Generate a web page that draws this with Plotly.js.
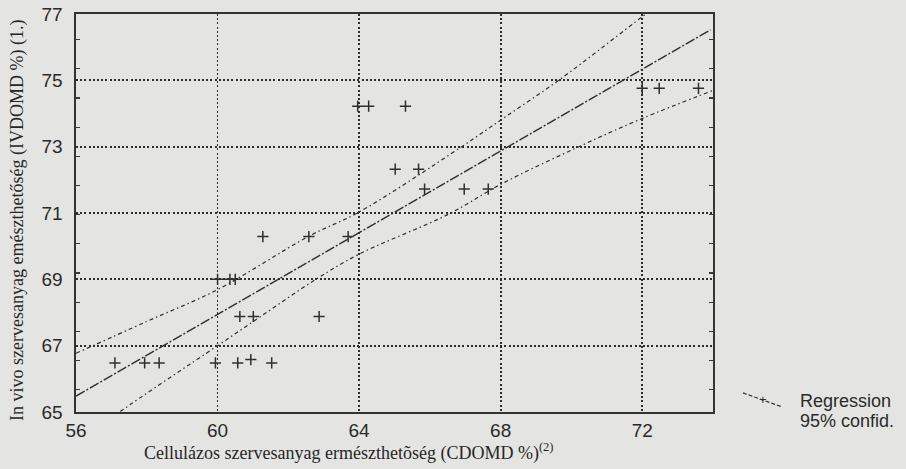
<!DOCTYPE html>
<html>
<head>
<meta charset="utf-8">
<script src="https://cdn.plot.ly/plotly-3.0.1.min.js"></script>
<style>
  html, body { margin: 0; padding: 0; background: #e4e5e2; }
  #chart { width: 906px; height: 469px; }
</style>
</head>
<body>
<div id="chart"></div>
<script>
// Cellulase (CDOMD %) vs in vivo (IVDOMD %) organic matter digestibility
const cdomd = [57.1, 57.94, 58.35, 59.94, 60.57, 60.94, 61.53,
               60.63, 61.01, 62.87,
               60.0, 60.35, 60.5,
               61.28, 62.58, 63.69,
               65.85, 66.97, 67.65,
               65.02, 65.68,
               63.96, 64.27, 65.31,
               72.0, 72.48, 73.59];
const ivdomd = [66.48, 66.48, 66.48, 66.48, 66.48, 66.58, 66.48,
                67.88, 67.88, 67.88,
                69.0, 69.0, 69.0,
                70.29, 70.29, 70.29,
                71.72, 71.72, 71.72,
                72.32, 72.32,
                74.22, 74.22, 74.22,
                74.76, 74.76, 74.76];

// fitted regression line (end points)
const regX = [56, 73.93];
const regY = [65.48, 76.52];

// 95% confidence limits
const upperX = [56, 58, 60, 62.58, 64.0, 66.9, 68.12, 69.64, 72.0, 72.2];
const upperY = [66.77, 67.73, 68.69, 70.3, 71.03, 73.0, 73.89, 75.0, 76.92, 77.08];
const lowerX = [57.0, 57.3, 60.0, 61.22, 62.78, 64.0, 66.5, 68.03, 70.11, 72.0, 74.06];
const lowerY = [64.8, 65.05, 67.0, 67.88, 69.0, 69.76, 70.95, 71.88, 72.95, 73.85, 74.72];

// axis ticks
const xTicks = [56, 60, 64, 68, 72];
const yTicks = [65, 67, 69, 71, 73, 75, 77];

const ink = '#2f2f2f';
const sans = '"Liberation Sans", Arial, sans-serif';
const serif = '"Liberation Serif", "Times New Roman", serif';
const bandDash = '4px,3px,1.5px,3px';

const traces = [
  {
    x: upperX, y: upperY, type: 'scatter', mode: 'lines',
    line: { color: ink, width: 1.2, dash: bandDash, shape: 'spline' },
    hoverinfo: 'skip'
  },
  {
    x: lowerX, y: lowerY, type: 'scatter', mode: 'lines',
    line: { color: ink, width: 1.2, dash: bandDash, shape: 'spline' },
    hoverinfo: 'skip'
  },
  {
    x: regX, y: regY, type: 'scatter', mode: 'lines',
    line: { color: ink, width: 1.4, dash: '10px,2px,2px,2px' }
  },
  {
    x: cdomd, y: ivdomd, type: 'scatter', mode: 'markers',
    marker: { symbol: 'cross-thin', size: 8, line: { color: ink, width: 1.5 } }
  },
  // empty traces so the inner tick axes on both frame sides get drawn
  { x: [], y: [], yaxis: 'y2', type: 'scatter', mode: 'lines', hoverinfo: 'skip' },
  { x: [], y: [], yaxis: 'y3', type: 'scatter', mode: 'lines', hoverinfo: 'skip' }
];

const innerTicks = {
  range: [65, 77], overlaying: 'y', anchor: 'x',
  tickmode: 'linear', tick0: 65.67, dtick: 0.88,
  ticks: 'inside', ticklen: 4, tickwidth: 1.2, tickcolor: '#3a3a3a',
  showticklabels: false, showgrid: false, showline: false, zeroline: false,
  fixedrange: true
};

const gridStyle = { showgrid: true, gridcolor: '#2c2c2c', gridwidth: 1.8, griddash: '2px,2.2px' };

const layout = {
  width: 906, height: 469,
  margin: { l: 76, r: 193, t: 14, b: 57 },
  paper_bgcolor: '#e4e5e2',
  plot_bgcolor: '#e4e5e2',
  showlegend: false,
  font: { family: sans, color: '#2e2e2e' },
  xaxis: Object.assign({
    range: [56, 74],
    tickmode: 'array', tickvals: xTicks,
    ticks: '', ticklabelstandoff: 1,
    tickfont: { size: 19, family: sans, color: '#2a2a2a' },
    showline: true, linecolor: '#333', linewidth: 1.6, mirror: true,
    zeroline: false, fixedrange: true
  }, gridStyle),
  yaxis: Object.assign({
    range: [65, 77],
    tickmode: 'array', tickvals: yTicks,
    ticks: '', ticklabelstandoff: 8,
    tickfont: { size: 19, family: sans, color: '#2a2a2a' },
    showline: true, linecolor: '#333', linewidth: 1.6, mirror: true,
    zeroline: false, fixedrange: true
  }, gridStyle),
  yaxis2: Object.assign({ side: 'right' }, innerTicks),
  yaxis3: Object.assign({ side: 'left' }, innerTicks),
  shapes: [
    // legend sample line
    { type: 'line', xref: 'paper', yref: 'paper',
      x0: 1.047, y0: 0.048, x1: 1.108, y1: 0.013,
      line: { color: ink, width: 1.2, dash: '4px,2px' } }
  ],
  annotations: [
    { xref: 'paper', yref: 'paper', x: 1.078, y: 0.031, text: '+',
      showarrow: false, xanchor: 'center', yanchor: 'middle',
      font: { size: 13, family: sans, color: ink } },
    { xref: 'paper', yref: 'paper', x: 1.133, y: 0.028, text: 'Regression',
      showarrow: false, xanchor: 'left', yanchor: 'middle',
      font: { size: 18, family: sans, color: '#2a2a2a' } },
    { xref: 'paper', yref: 'paper', x: 1.133, y: -0.022, text: '95% confid.',
      showarrow: false, xanchor: 'left', yanchor: 'middle',
      font: { size: 18, family: sans, color: '#2a2a2a' } },
    { xref: 'paper', yref: 'paper', x: 0.1036, y: -0.1,
      text: 'Cellulázos szervesanyag ermészthetõség (CDOMD %)<sup>(2)</sup>',
      showarrow: false, xanchor: 'left', yanchor: 'middle',
      font: { size: 18, family: serif, color: '#262626' } },
    { xref: 'paper', yref: 'paper', x: -0.091, y: 0.48,
      text: 'In vivo szervesanyag emészthetőség (IVDOMD %) (1.)',
      textangle: -90, showarrow: false, xanchor: 'center', yanchor: 'middle',
      font: { size: 18, family: serif, color: '#262626' } }
  ]
};

Plotly.newPlot('chart', traces, layout, { displayModeBar: false, staticPlot: true });
</script>
</body>
</html>
